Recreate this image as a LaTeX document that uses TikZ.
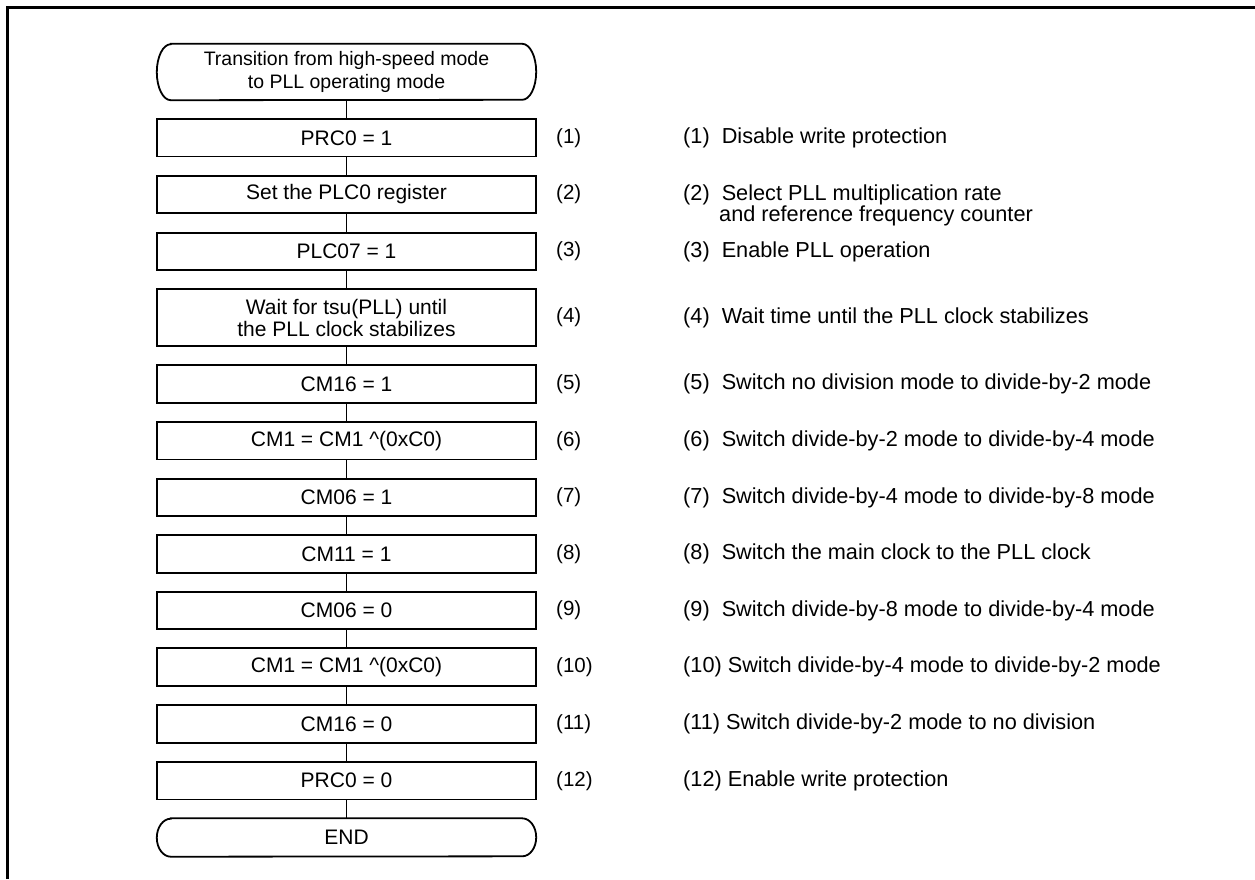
\documentclass[tikz,border=0pt]{standalone}
\usepackage{fontspec}
\setmainfont{Liberation Sans}
\begin{document}
\begin{tikzpicture}[x=1pt,y=-1pt,
  boxfont/.style={font=\fontsize{21}{22}\selectfont},
  stepbox/.style={boxfont, draw, line width=1.8pt, minimum width=379pt, minimum height=37.5pt, align=center, inner sep=0pt},
  termbox/.style={minimum width=379pt, align=center, inner sep=0pt},
  outline/.style={line width=1.8pt},
  link/.style={line width=1.6pt},
  num/.style={font=\fontsize{20.5}{22}\selectfont, anchor=west, inner sep=0pt},
  desc/.style={font=\fontsize{21.7}{20}\selectfont, anchor=west, inner sep=0pt, align=left},
  frame/.style={line width=3pt}]
\useasboundingbox (0,0) rectangle (1255,879);
% frame
\draw[frame] (7.5,879) -- (7.5,7.5) -- (1255,7.5);
% start terminator
\node[termbox, minimum height=56pt, font=\fontsize{19.5}{23}\selectfont] (s) at (346.5,72) {Transition from high-speed mode\\to PLL operating mode};
\draw[outline] ([xshift=14pt]s.north west) -- ([xshift=-14pt]s.north east)
  arc[start angle=90, end angle=-90, x radius=14pt, y radius=28pt]
  -- ([xshift=14pt]s.south west)
  arc[start angle=270, end angle=90, x radius=14pt, y radius=28pt] -- cycle;
% steps
\node[stepbox] (b1) at (346.5,137.8) {PRC0 = 1};
\node[stepbox] (b2) at (346.5,194.5) {Set the PLC0 register};
\node[stepbox] (b3) at (346.5,251.4) {PLC07 = 1};
\node[stepbox, minimum height=56.4pt] (b4) at (346.5,317.5) {Wait for tsu(PLL) until\\the PLL clock stabilizes};
\node[stepbox] (b5) at (346.5,383.9) {CM16 = 1};
\node[stepbox] (b6) at (346.5,440.8) {CM1 = CM1 \textasciicircum(0xC0)};
\node[stepbox] (b7) at (346.5,497.5) {CM06 = 1};
\node[stepbox] (b8) at (346.5,553.9) {CM11 = 1};
\node[stepbox] (b9) at (346.5,610.5) {CM06 = 0};
\node[stepbox] (b10) at (346.5,667.0) {CM1 = CM1 \textasciicircum(0xC0)};
\node[stepbox] (b11) at (346.5,724.0) {CM16 = 0};
\node[stepbox] (b12) at (346.5,780.7) {PRC0 = 0};
% end terminator
\node[termbox, minimum height=38pt, boxfont] (e) at (346.5,837.5) {END};
\draw[outline] ([xshift=14pt]e.north west) -- ([xshift=-14pt]e.north east)
  arc[start angle=90, end angle=-90, x radius=14pt, y radius=19pt]
  -- ([xshift=14pt]e.south west)
  arc[start angle=270, end angle=90, x radius=14pt, y radius=19pt] -- cycle;
% connectors
\draw[link] (s) -- (b1);
\draw[link] (b1) -- (b2);
\draw[link] (b2) -- (b3);
\draw[link] (b3) -- (b4);
\draw[link] (b4) -- (b5);
\draw[link] (b5) -- (b6);
\draw[link] (b6) -- (b7);
\draw[link] (b7) -- (b8);
\draw[link] (b8) -- (b9);
\draw[link] (b9) -- (b10);
\draw[link] (b10) -- (b11);
\draw[link] (b11) -- (b12);
\draw[link] (b12) -- (e);
% step numbers
\node[num] (n1) at (556,137.8) {(1)};
\node[num] (n2) at (556,194.5) {(2)};
\node[num] (n3) at (556,251.4) {(3)};
\node[num] (n4) at (556,317.5) {(4)};
\node[num] (n5) at (556,383.9) {(5)};
\node[num] (n6) at (556,440.8) {(6)};
\node[num] (n7) at (556,497.5) {(7)};
\node[num] (n8) at (556,553.9) {(8)};
\node[num] (n9) at (556,610.5) {(9)};
\node[num] (n10) at (556,667.0) {(10)};
\node[num] (n11) at (556,724.0) {(11)};
\node[num] (n12) at (556,780.7) {(12)};
% descriptions
\node[desc] (d1) at (683,137.8) {(1)~~Disable write protection};
\node[desc, anchor=north west] (d2) at (683,184.3) {(2)~~Select PLL multiplication rate\\\hspace*{36pt}and reference frequency counter};
\node[desc] (d3) at (683,251.4) {(3)~~Enable PLL operation};
\node[desc] (d4) at (683,317.5) {(4)~~Wait time until the PLL clock stabilizes};
\node[desc] (d5) at (683,383.9) {(5)~~Switch no division mode to divide-by-2 mode};
\node[desc] (d6) at (683,440.8) {(6)~~Switch divide-by-2 mode to divide-by-4 mode};
\node[desc] (d7) at (683,497.5) {(7)~~Switch divide-by-4 mode to divide-by-8 mode};
\node[desc] (d8) at (683,553.9) {(8)~~Switch the main clock to the PLL clock};
\node[desc] (d9) at (683,610.5) {(9)~~Switch divide-by-8 mode to divide-by-4 mode};
\node[desc] (d10) at (683,667.0) {(10) Switch divide-by-4 mode to divide-by-2 mode};
\node[desc] (d11) at (683,724.0) {(11) Switch divide-by-2 mode to no division};
\node[desc] (d12) at (683,780.7) {(12) Enable write protection};
\end{tikzpicture}
\end{document}
